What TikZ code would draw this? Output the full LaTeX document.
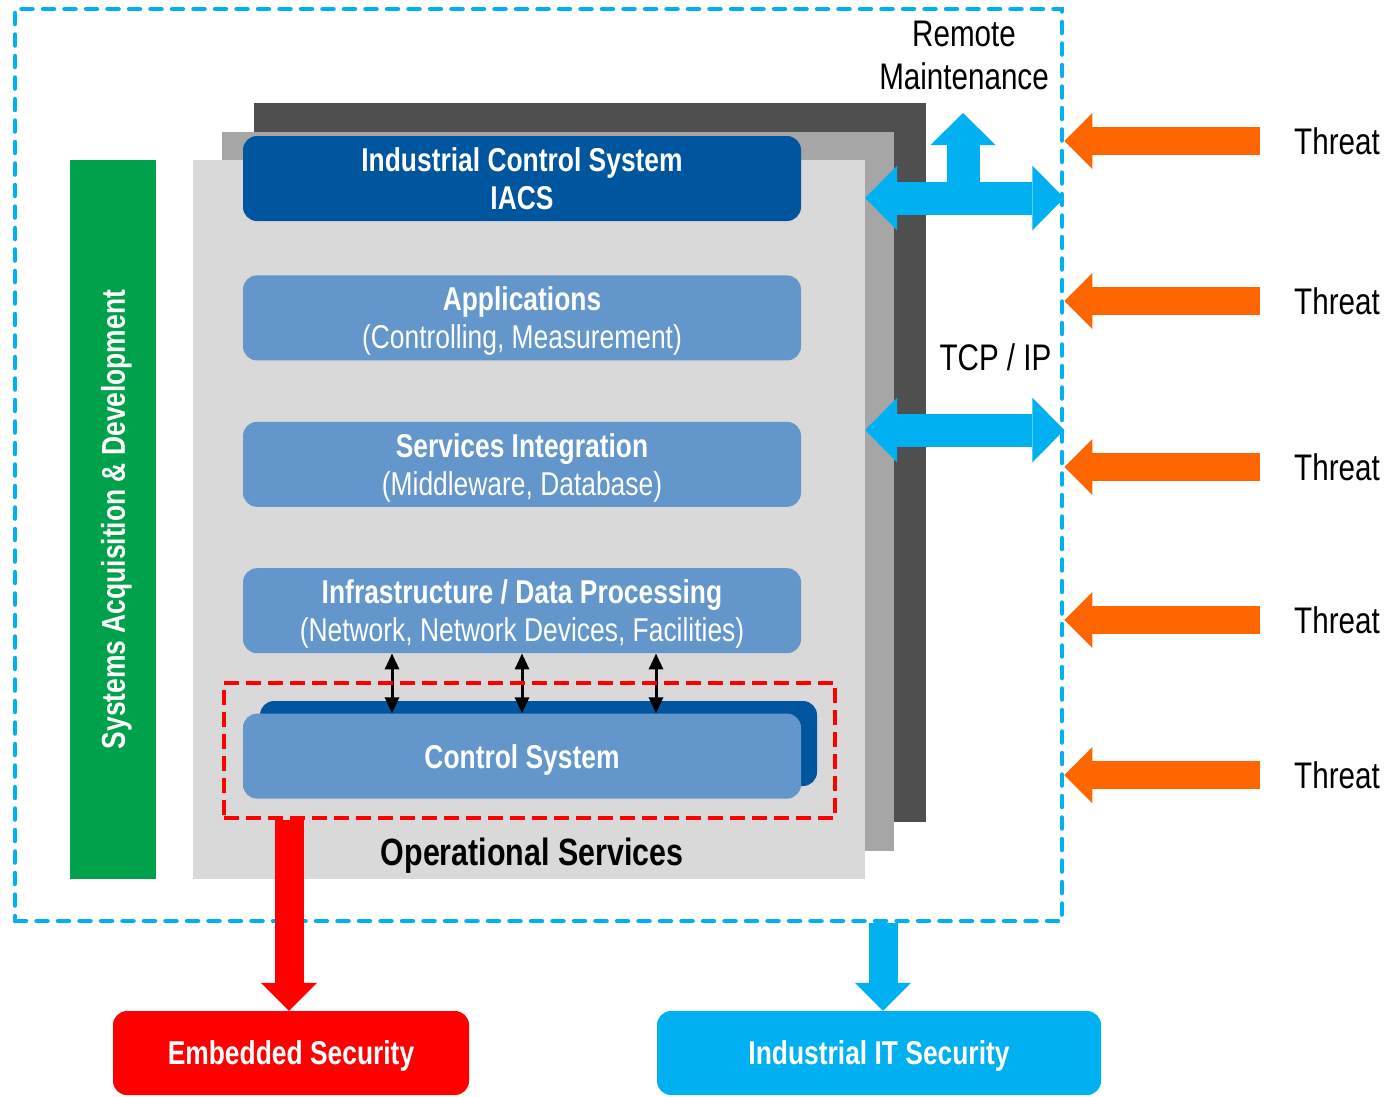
\documentclass[tikz,border=0pt]{standalone}
\usepackage{fontspec}
\setmainfont{Liberation Sans}[FakeStretch=0.8]
\usetikzlibrary{arrows.meta,positioning}
\definecolor{itblue}{HTML}{00B0F0}
\definecolor{threatorange}{HTML}{FF6600}
\definecolor{iacsblue}{HTML}{00569E}
\definecolor{layerblue}{HTML}{6396CA}
\definecolor{devgreen}{HTML}{00A14B}
\definecolor{panellight}{HTML}{D9D9D9}
\definecolor{panelmid}{HTML}{A6A6A6}
\definecolor{paneldark}{HTML}{4F4F4F}
\definecolor{embred}{HTML}{FF0000}

\tikzset{
  layerbox/.style={rectangle, rounded corners=14pt, minimum width=558pt, minimum height=85pt,
    inner sep=0pt, text depth=0pt, fill=layerblue, text=white, align=center, font=\fontsize{33}{38}\selectfont},
  panel/.style={rectangle, minimum width=672pt, minimum height=719pt, inner sep=0pt},
  secbox/.style={rectangle, rounded corners=14pt, minimum height=84pt, inner sep=0pt, text depth=0pt,
    text=white, font=\bfseries\fontsize{33}{38}\selectfont},
  sidetext/.style={font=\fontsize{37}{43}\selectfont, align=center, inner sep=0pt},
  ithead/.tip={Triangle[length=32pt,width=65pt,line width=0pt]},
  itarrow/.style={draw=itblue, line width=33pt, -ithead},
  itdouble/.style={draw=itblue, line width=33pt, ithead-ithead},
  threatarrow/.style={draw=threatorange, line width=28pt, -{Triangle[length=28pt,width=56pt,line width=0pt]}},
  downarrow/.style={line width=29pt, -{Triangle[length=28pt,width=56pt,line width=0pt]}},
  busarrow/.style={black, line width=3pt, {Triangle[length=16pt,width=14pt]}-{Triangle[length=16pt,width=14pt]}}
}

\begin{document}
\begin{tikzpicture}[x=1pt,y=-1pt]
\useasboundingbox (0,0) rectangle (1388,1096);

% IT boundary
\node[draw=itblue, line width=4.5pt, dash pattern=on 11pt off 10.5pt, line cap=round,
  minimum width=1047pt, minimum height=912pt, inner sep=0pt] (outerbox) at (538.5,465) {};

% stacked panels
\node[panel, fill=paneldark] (paneldk) at (590,462) {};
\node[panel, fill=panelmid] (panelmd) at (558,491) {};
\node[panel, fill=panellight] (panellt) at (529,519.5) {};

% side bar
\node[rectangle, rotate=90, minimum width=719pt, minimum height=86pt, inner sep=0pt, text depth=0pt,
  fill=devgreen, text=white, font=\bfseries\fontsize{33}{38}\selectfont] (devbar) at (113,519.5)
  {Systems Acquisition \& Development};

% layers
\node[layerbox, fill=iacsblue, font=\bfseries\fontsize{33}{38}\selectfont] (ics) at (522,178.5)
  {Industrial Control System\\IACS};
\node[layerbox, below=54pt of ics] (app) {\textbf{Applications}\\(Controlling, Measurement)};
\node[layerbox, below=61pt of app] (srv) {\textbf{Services Integration}\\(Middleware, Database)};
\node[layerbox, below=61pt of srv] (infra) {\textbf{Infrastructure / Data Processing}\\(Network, Network Devices, Facilities)};
\node[layerbox, fill=iacsblue, minimum width=557pt] (ctrlback) at (538.5,743.5) {};
\node[layerbox, below=60pt of infra, font=\bfseries\fontsize{33}{38}\selectfont] (ctrl) {Control System};

\foreach \dx in {-130,0,134}
  \draw[busarrow] ([xshift=\dx pt]infra.south) -- ([xshift=\dx pt]ctrl.north);

\node[draw=embred, line width=4pt, dash pattern=on 15pt off 7pt, minimum width=611pt,
  minimum height=135pt, inner sep=0pt] (csframe) at (529.5,750.5) {};

\node[font=\bfseries\fontsize{38}{42}\selectfont, inner sep=0pt, text depth=0pt] (ops) at (532,852) {Operational Services};

% network links
\coordinate (rm) at (963,198);
\coordinate (tcp) at (963,430);
\draw[itdouble] (panellt.east |- rm) -- (outerbox.east |- rm);
\draw[itarrow] (rm) -- ++(0,-85);
\draw[itdouble] (panellt.east |- tcp) -- (outerbox.east |- tcp);
\node[sidetext] (rmtext) at (964,55) {Remote\\Maintenance};
\node[sidetext] (tcptext) at (995.5,357.5) {TCP / IP};

% threats
\foreach \ty/\n in {141/1,301/2,467/3,620/4,775/5}{
  \coordinate (t\n) at (1260,\ty);
  \draw[threatarrow] (t\n) -- (outerbox.east |- t\n);
  \node[sidetext, anchor=west] (threat\n) at (1294,\ty) {Threat};
}

% security domains
\node[secbox, fill=embred, minimum width=356pt] (embsec) at (291,1053) {Embedded Security};
\node[secbox, fill=itblue, minimum width=444pt] (itsec) at (879,1053) {Industrial IT Security};
\draw[downarrow, embred] ([xshift=-2pt]csframe.south -| embsec.north) -- ([xshift=-2pt]embsec.north);
\draw[downarrow, itblue] ([xshift=4pt]outerbox.south -| itsec.north) -- ([xshift=4pt]itsec.north);
\end{tikzpicture}
\end{document}
